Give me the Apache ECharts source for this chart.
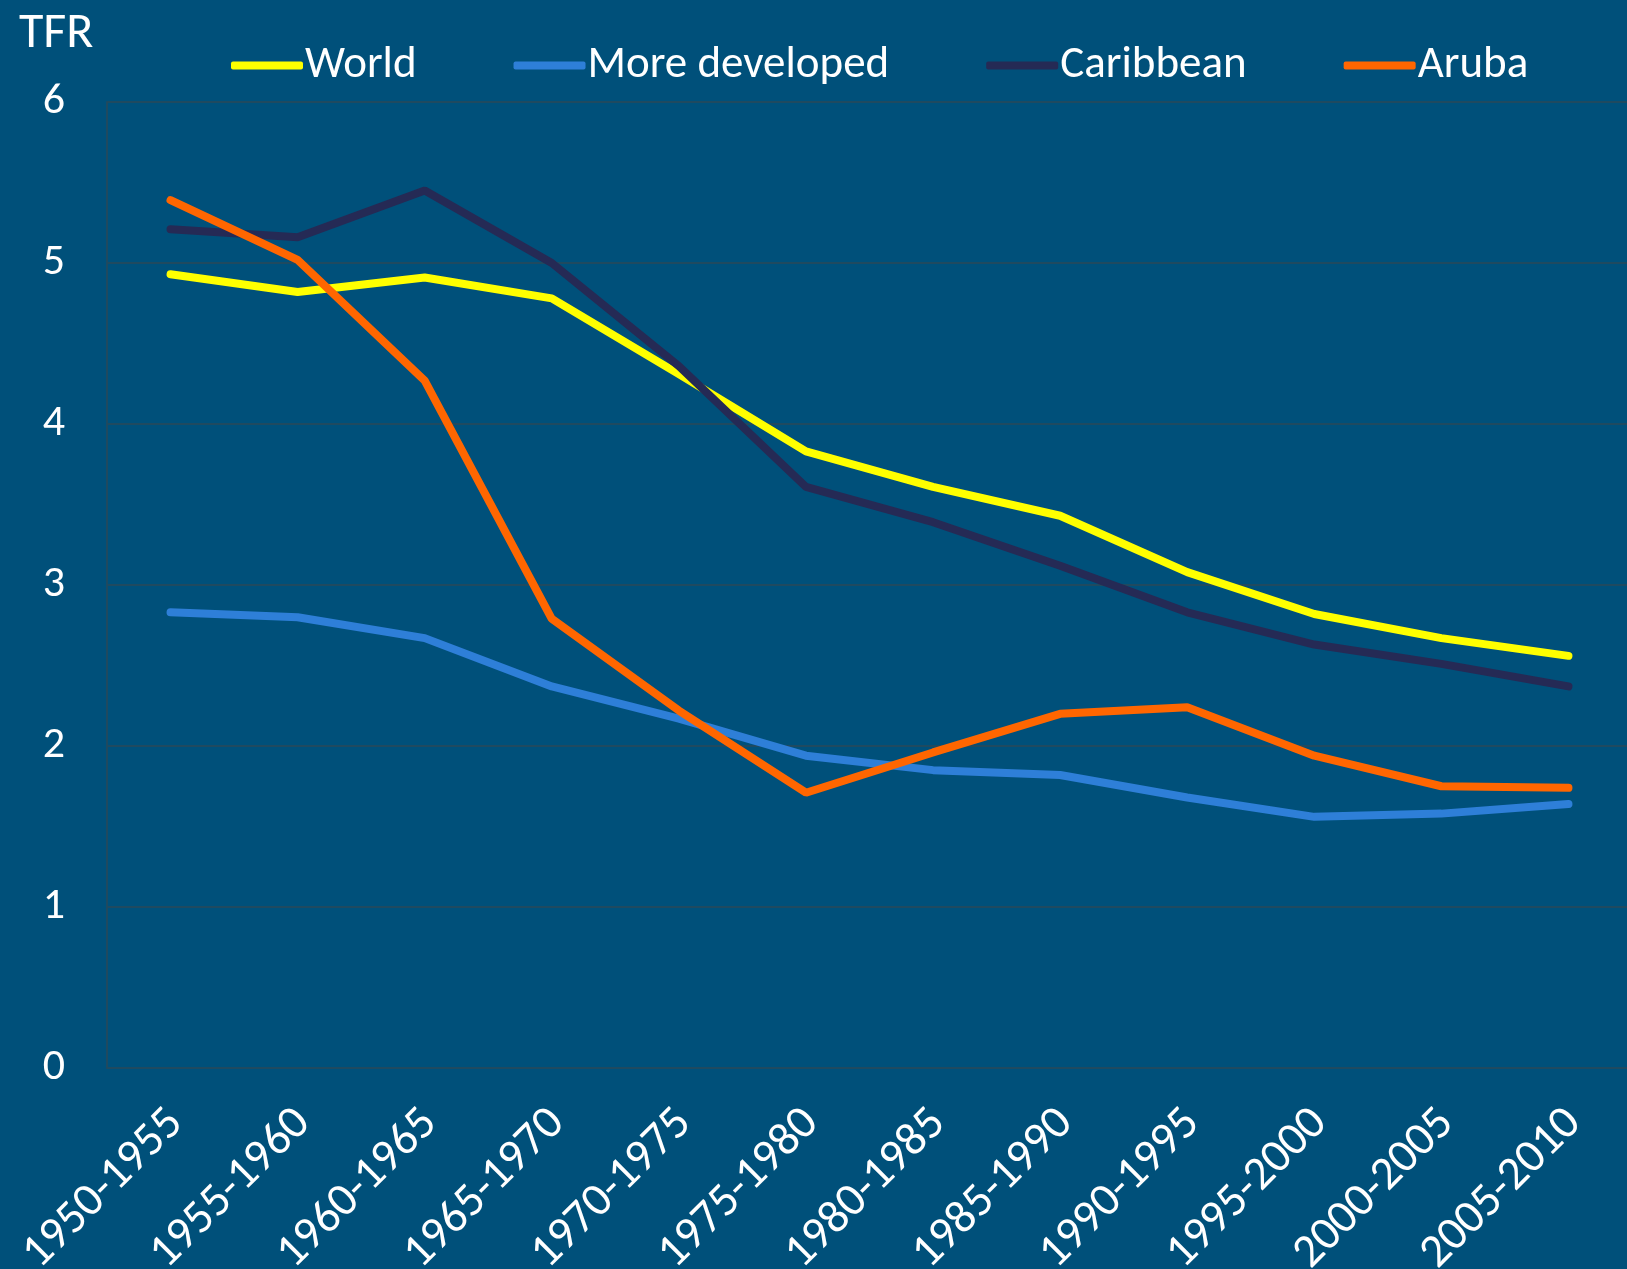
<!DOCTYPE html>
<html>
<head>
<meta charset="utf-8">
<title>TFR</title>
<script src="https://cdn.jsdelivr.net/npm/echarts@6/dist/echarts.min.js"></script>
<style>
  html, body { margin: 0; padding: 0; background: #00507a; }
  #chart { width: 1627px; height: 1269px; }
</style>
</head>
<body>
<div id="chart"></div>
<script>
// 期间（横轴）
var periods = ['1950-1955', '1955-1960', '1960-1965', '1965-1970', '1970-1975', '1975-1980',
  '1980-1985', '1985-1990', '1990-1995', '1995-2000', '2000-2005', '2005-2010'];
// 各序列总和生育率
var world = [4.93, 4.82, 4.91, 4.78, 4.31, 3.83, 3.61, 3.43, 3.08, 2.82, 2.67, 2.56];
var moreDeveloped = [2.83, 2.80, 2.67, 2.37, 2.17, 1.94, 1.85, 1.82, 1.68, 1.56, 1.58, 1.64];
var caribbean = [5.21, 5.16, 5.45, 5.00, 4.36, 3.61, 3.39, 3.12, 2.83, 2.63, 2.51, 2.37];
var aruba = [5.39, 5.02, 4.27, 2.79, 2.22, 1.71, 1.96, 2.20, 2.24, 1.94, 1.75, 1.74];
var yTicks = [0, 1, 2, 3, 4, 5, 6];

var font = 'Carlito, "Open Sans", sans-serif';
var gridColor = '#1f4a60';

var myChart = echarts.init(document.getElementById('chart'));

function mkLine(name, data, color) {
  return {
    name: name,
    type: 'line',
    data: data,
    symbol: 'none',
    lineStyle: { color: color, width: 8, cap: 'round' },
    itemStyle: { color: color }
  };
}

var option = {
  backgroundColor: '#00507a',
  animation: false,
  title: {
    text: 'TFR',
    left: 14,
    top: 4,
    textStyle: { color: '#ffffff', fontFamily: font, fontSize: 50, fontWeight: 'normal' }
  },
  legend: {
    left: 226,
    top: 38,
    itemWidth: 72,
    itemHeight: 8,
    itemGap: 97,
    icon: 'roundRect',
    textStyle: { color: '#ffffff', fontFamily: font, fontSize: 45, padding: [0, 0, 0, -3] },
    data: ['World', 'More developed', 'Caribbean', 'Aruba']
  },
  // 不让坐标轴标签挤压绘图区
  grid: { left: 107, top: 102, width: 1525, bottom: 201, containLabel: false, outerBoundsMode: 'none' },
  xAxis: {
    type: 'category',
    data: periods,
    boundaryGap: true,
    axisLine: { show: true, lineStyle: { color: gridColor, width: 2 } },
    axisTick: { show: false },
    axisLabel: {
      color: '#ffffff', fontFamily: font, fontSize: 47, rotate: 45, margin: 54,
      interval: 0, padding: [0, -8, 0, 0]
    }
  },
  yAxis: {
    type: 'value',
    min: yTicks[0],
    max: yTicks[yTicks.length - 1],
    interval: 1,
    axisLine: { show: true, lineStyle: { color: gridColor, width: 2 } },
    axisTick: { show: false },
    axisLabel: { color: '#ffffff', fontFamily: font, fontSize: 44, margin: 42 },
    splitLine: { show: true, lineStyle: { color: gridColor, width: 2 } }
  },
  series: [
    mkLine('World', world, '#ffff00'),
    mkLine('More developed', moreDeveloped, '#2e7fd8'),
    mkLine('Caribbean', caribbean, '#252a55'),
    mkLine('Aruba', aruba, '#ff6600')
  ]
};

myChart.setOption(option);

window.addEventListener('resize', function () {
  myChart.resize();
});
</script>
</body>
</html>
